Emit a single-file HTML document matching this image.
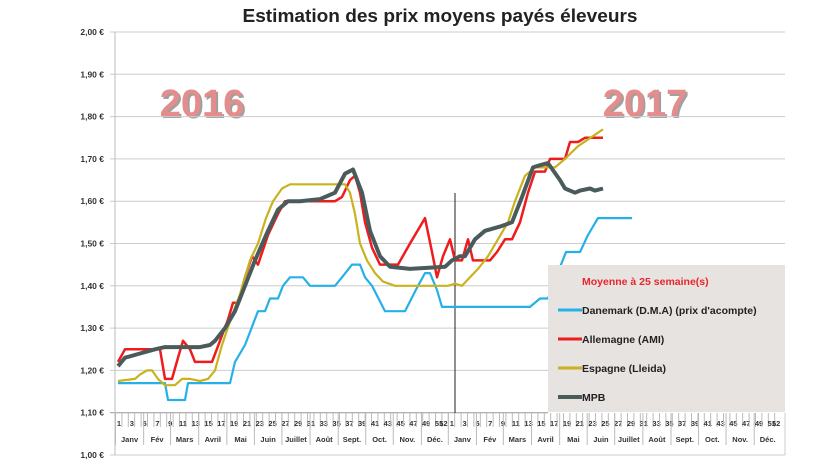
<!DOCTYPE html><html><head><style>
body{margin:0;background:#fff;width:820px;height:468px;overflow:hidden;font-family:"Liberation Sans",sans-serif}
</style></head><body>
<svg id="s" width="820" height="468" xmlns="http://www.w3.org/2000/svg" font-family="Liberation Sans, sans-serif">
<text x="440" y="22" text-anchor="middle" font-size="18" font-weight="bold" fill="#222" textLength="395" lengthAdjust="spacingAndGlyphs">Estimation des prix moyens payés éleveurs</text>
<text x="202" y="116" text-anchor="middle" font-size="38" font-weight="bold" fill="#444" opacity="0.5" transform="translate(2,2)">2016</text>
<text x="202" y="116" text-anchor="middle" font-size="38" font-weight="bold" fill="#e58c8c">2016</text>
<text x="645" y="116" text-anchor="middle" font-size="38" font-weight="bold" fill="#444" opacity="0.5" transform="translate(2,2)">2017</text>
<text x="645" y="116" text-anchor="middle" font-size="38" font-weight="bold" fill="#e58c8c">2017</text>
<g id="g"></g>
<rect x="548" y="265" width="237" height="147" fill="#e6e3e0"/>
<text x="582" y="285" font-size="10.5" font-weight="bold" fill="#e8262b">Moyenne à  25 semaine(s)</text>
<line x1="558" y1="310" x2="582" y2="310" stroke="#26b0e8" stroke-width="3"/><text x="582" y="314" font-size="10.5" font-weight="bold" fill="#222">Danemark (D.M.A) (prix d'acompte)</text>
<line x1="558" y1="339" x2="582" y2="339" stroke="#ee1c1c" stroke-width="3"/><text x="582" y="343" font-size="10.5" font-weight="bold" fill="#222">Allemagne (AMI)</text>
<line x1="558" y1="368" x2="582" y2="368" stroke="#c9b21e" stroke-width="3"/><text x="582" y="372" font-size="10.5" font-weight="bold" fill="#222">Espagne (Lleida)</text>
<line x1="558" y1="397" x2="582" y2="397" stroke="#4a5b5b" stroke-width="4"/><text x="582" y="401" font-size="10.5" font-weight="bold" fill="#222">MPB</text>
</svg>
<script>
const g=document.getElementById('g');let h='';
const Y=v=>455-(v-1)*423;
for(let i=0;i<=10;i++){const v=1+i*0.1,y=Y(v);
h+=`<text x="104" y="${y+3}" text-anchor="end" font-size="8.5" font-weight="bold" fill="#333">${v.toFixed(2).replace('.',',')} €</text>`;
h+=`<line x1="110" y1="${y}" x2="${i<=3&&i>0?548:785}" y2="${y}" stroke="${i==1?'#999':'#ccc'}" stroke-width="1"/>`;}
h+=`<line x1="115" y1="32" x2="115" y2="455" stroke="#bbb"/><line x1="785" y1="413" x2="785" y2="455" stroke="#ccc"/>`;
h+=`<line x1="455" y1="193" x2="455" y2="413" stroke="#222"/>`;
const X=i=>118+i*6.4;
for(let y=0;y<2;y++)for(let w=1;w<=52;w++){const i=y*52+w-1,x=X(i);
h+=`<line x1="${x-2.5}" y1="413" x2="${x-2.5}" y2="427" stroke="#bbb"/>`;
if(w%2==1&&w<52||w==52)h+=`<text x="${x+(w==52?-1:1)}" y="426" text-anchor="middle" font-size="7.5" font-weight="bold" fill="#333">${w}</text>`;}
const months=['Janv','Fév','Mars','Avril','Mai','Juin','Juillet','Août','Sept.','Oct.','Nov.','Déc.'];
const mw=[0,4.4,8.6,13,17.4,21.7,26,30.4,34.8,39.1,43.4,47.8,52];
for(let y=0;y<2;y++)for(let m=0;m<12;m++){const a=X(y*52+mw[m])-2.5,b=X(y*52+mw[m+1])-2.5;
h+=`<line x1="${a}" y1="413" x2="${a}" y2="445" stroke="#bbb"/>`;
h+=`<text x="${(a+b)/2}" y="442" text-anchor="middle" font-size="7.5" font-weight="bold" fill="#333">${months[m]}</text>`;}
function L(pts,c,w){let d=pts.map((p,i)=>(i?'L':'M')+p[0]+' '+Y(p[1]).toFixed(1)).join(' ');
h+=`<path d="${d}" fill="none" stroke="${c}" stroke-width="${w}" stroke-linejoin="round"/>`;}
L([[118,1.17],[165,1.17],[168,1.13],[185,1.13],[188,1.17],[230,1.17],[235,1.22],[245,1.26],[258,1.34],[265,1.34],[270,1.37],[278,1.37],[283,1.40],[290,1.42],[303,1.42],[310,1.40],[335,1.40],[342,1.42],[352,1.45],[360,1.45],[365,1.42],[372,1.40],[385,1.34],[405,1.34],[418,1.40],[425,1.43],[430,1.43],[437,1.39],[442,1.35],[530,1.35],[540,1.37],[548,1.37],[556,1.42],[566,1.48],[580,1.48],[588,1.52],[598,1.56],[632,1.56]],'#26b0e8',2.2);
L([[118,1.22],[125,1.25],[160,1.25],[165,1.18],[172,1.18],[178,1.23],[183,1.27],[190,1.25],[195,1.22],[212,1.22],[220,1.27],[228,1.32],[233,1.36],[238,1.36],[245,1.42],[252,1.47],[258,1.45],[268,1.52],[278,1.57],[285,1.60],[335,1.60],[342,1.61],[350,1.65],[355,1.66],[360,1.62],[365,1.55],[372,1.49],[380,1.45],[398,1.45],[410,1.50],[425,1.56],[432,1.48],[437,1.42],[443,1.47],[450,1.51],[455,1.46],[462,1.46],[468,1.51],[473,1.46],[490,1.46],[497,1.48],[505,1.51],[512,1.51],[520,1.55],[528,1.62],[535,1.67],[545,1.67],[550,1.70],[565,1.70],[570,1.74],[578,1.74],[585,1.75],[603,1.75]],'#ee1c1c',2.5);
L([[118,1.175],[135,1.18],[140,1.19],[147,1.2],[152,1.2],[158,1.18],[165,1.165],[175,1.165],[182,1.18],[190,1.18],[200,1.175],[208,1.18],[215,1.2],[222,1.26],[232,1.33],[240,1.38],[250,1.46],[258,1.5],[266,1.56],[273,1.6],[282,1.63],[290,1.64],[345,1.64],[350,1.62],[355,1.57],[360,1.5],[367,1.46],[375,1.43],[383,1.41],[395,1.4],[448,1.4],[455,1.405],[462,1.4],[470,1.42],[478,1.44],[488,1.47],[498,1.51],[508,1.55],[515,1.6],[525,1.66],[535,1.68],[555,1.68],[565,1.7],[578,1.73],[603,1.77]],'#c9b21e',2.2);
L([[118,1.21],[125,1.23],[140,1.24],[155,1.25],[165,1.255],[200,1.255],[210,1.26],[215,1.27],[225,1.3],[235,1.34],[245,1.4],[255,1.46],[268,1.53],[278,1.58],[288,1.6],[300,1.6],[320,1.605],[335,1.62],[345,1.665],[353,1.675],[362,1.62],[370,1.53],[380,1.47],[390,1.445],[410,1.44],[445,1.445],[452,1.46],[460,1.47],[465,1.47],[475,1.51],[485,1.53],[500,1.54],[512,1.55],[522,1.61],[533,1.68],[540,1.685],[548,1.69],[560,1.65],[565,1.63],[575,1.62],[580,1.625],[590,1.63],[595,1.625],[603,1.63]],'#4a5b5b',4);
g.innerHTML=h;
</script>
</body></html>
